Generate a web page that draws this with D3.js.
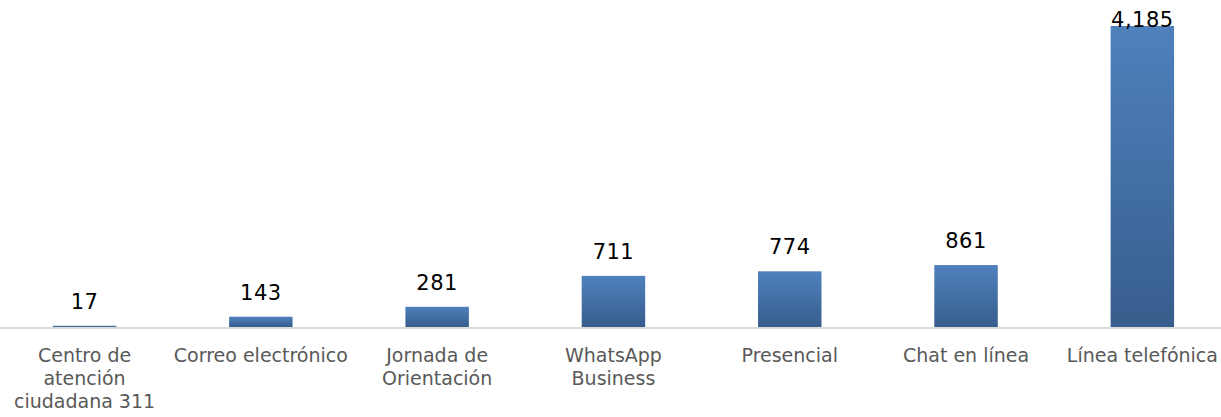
<!DOCTYPE html>
<html>
<head>
<meta charset="utf-8">
<script src="https://cdn.jsdelivr.net/npm/d3@7"></script>
<style>
  body { margin: 0; background: #fff; }
  svg { display: block; }
</style>
</head>
<body>
<div id="chart"></div>
<script>
// data
var categories = ["Centro de atención ciudadana 311", "Correo electrónico", "Jornada de Orientación",
  "WhatsApp Business", "Presencial", "Chat en línea", "Línea telefónica"];
var values = [17, 143, 281, 711, 774, 861, 4185];
var tickLabels = [
  ["Centro de", "atención", "ciudadana 311"],
  ["Correo electrónico"],
  ["Jornada de", "Orientación"],
  ["WhatsApp", "Business"],
  ["Presencial"],
  ["Chat en línea"],
  ["Línea telefónica"]
];

var width = 1221, height = 417,
  baseline = 327;

var svg = d3.select("#chart").append("svg")
  .attr("width", width)
  .attr("height", height);

var grad = svg.append("defs").append("linearGradient")
  .attr("id", "barGrad")
  .attr("x1", 0).attr("y1", 0).attr("x2", 0).attr("y2", 1);
grad.append("stop").attr("offset", "0%").attr("stop-color", "#4f81bd");
grad.append("stop").attr("offset", "100%").attr("stop-color", "#375d8c");

var x = d3.scaleBand()
  .domain(categories)
  .range([-3.6, 1230.5])
  .paddingInner(0.64)
  .paddingOuter(0.32);

var y = d3.scaleLinear()
  .domain([0, 4185])
  .range([baseline, 26]);

var fmt = d3.format(",");

svg.selectAll(".bar")
  .data(values)
  .enter().append("rect")
  .attr("class", "bar")
  .attr("x", function (d, i) { return x(categories[i]); })
  .attr("y", function (d) { return y(d); })
  .attr("width", x.bandwidth())
  .attr("height", function (d) { return baseline - y(d); })
  .attr("fill", "url(#barGrad)");

// axis line
svg.append("line")
  .attr("x1", 0).attr("x2", width)
  .attr("y1", baseline + 1).attr("y2", baseline + 1)
  .attr("stroke", "#d9d9d9")
  .attr("stroke-width", 2);

// value labels
svg.selectAll(".val")
  .data(values)
  .enter().append("text")
  .attr("class", "val")
  .attr("x", function (d, i) { return x(categories[i]) + x.bandwidth() / 2; })
  .attr("y", function (d) { return Math.max(y(d) - 17, 27); })
  .attr("text-anchor", "middle")
  .attr("font-family", "DejaVu Sans")
  .attr("font-size", "21px")
  .attr("letter-spacing", "0.5px")
  .attr("fill", "#000")
  .text(function (d) { return fmt(d); });

// category labels
var lab = svg.selectAll(".cat")
  .data(tickLabels)
  .enter().append("text")
  .attr("class", "cat")
  .attr("text-anchor", "middle")
  .attr("font-family", "DejaVu Sans")
  .attr("font-size", "19px")
  .attr("fill", "#595959")
  .attr("transform", function (d, i) {
    return "translate(" + (x(categories[i]) + x.bandwidth() / 2) + ",362)";
  });

lab.selectAll("tspan")
  .data(function (d) { return d; })
  .enter().append("tspan")
  .attr("x", 0)
  .attr("y", function (d, j) { return j * 23; })
  .text(function (d) { return d; });
</script>
</body>
</html>
